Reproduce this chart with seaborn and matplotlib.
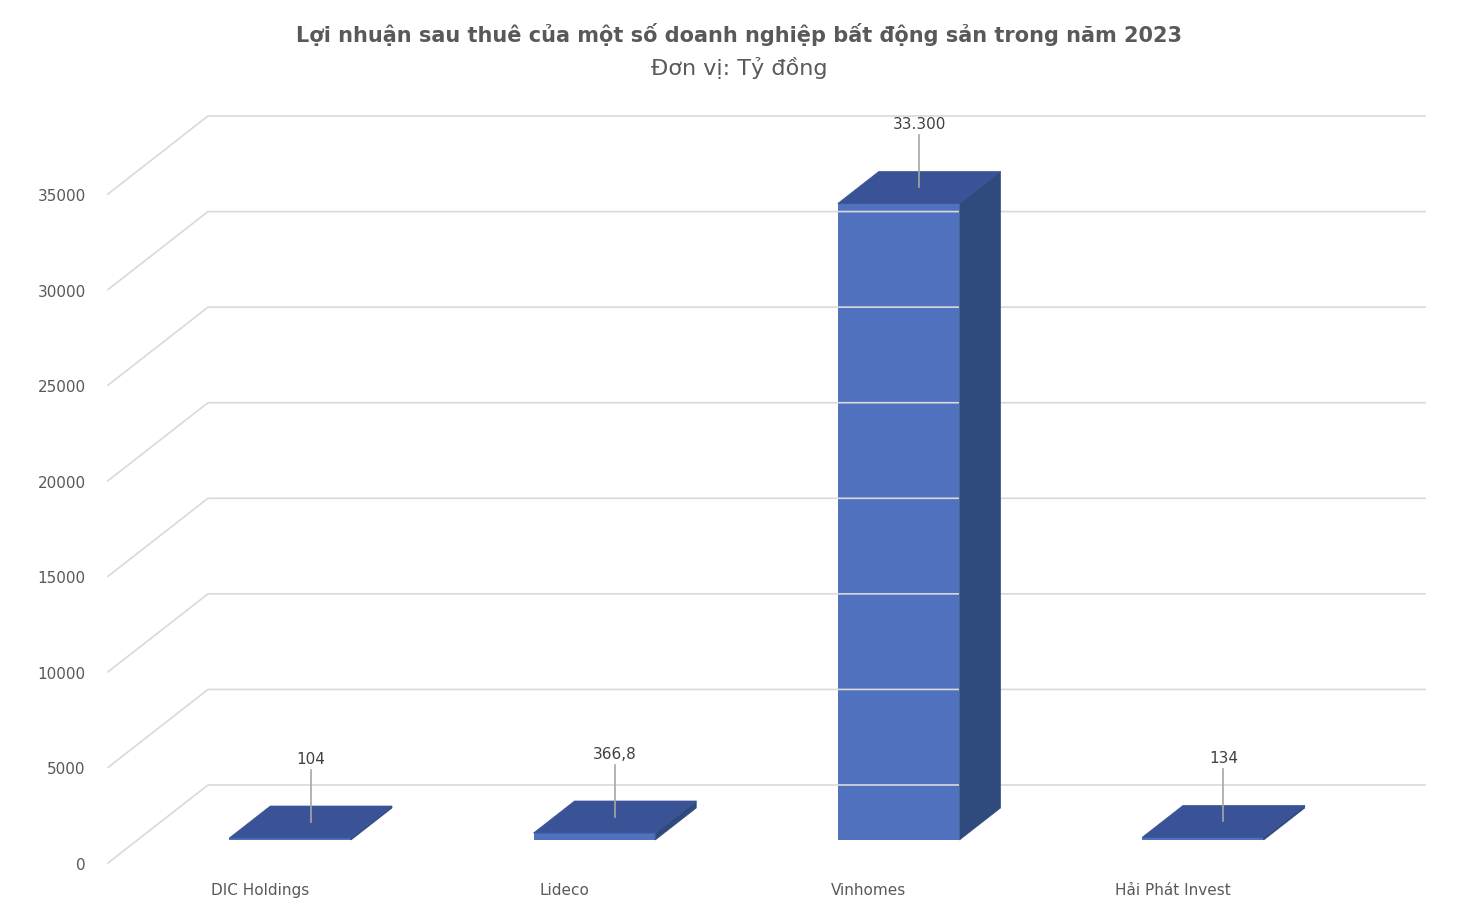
import matplotlib
matplotlib.use('Agg')
import matplotlib.pyplot as plt
import seaborn as sns
import pandas as pd
from matplotlib.patches import Polygon
from matplotlib.lines import Line2D
from matplotlib.transforms import IdentityTransform, ScaledTranslation

companies = ['DIC Holdings', 'Lideco', 'Vinhomes', 'Hải Phát Invest']
profit = [104, 366.8, 33300, 134]
value_labels = ['104', '366,8', '33.300', '134']
y_ticks = [0, 5000, 10000, 15000, 20000, 25000, 30000, 35000]

title = 'Lợi nhuận sau thuê của một số doanh nghiệp bất động sản trong năm 2023'
subtitle = 'Đơn vị: Tỷ đồng'

plt.rcParams.update({'font.family': 'DejaVu Sans'})
grey = '#595959'

# depth offsets in pixels (dpi=100)
DX, DY = 100, 78          # full wall depth
BX, BY = 30, 23           # bar front plane position
BDX, BDY = 41, 32         # bar depth

fig = plt.figure(figsize=(14.78, 9.12), dpi=100)
ax = fig.add_axes([108/1478, 48/912, 1217/1478, 669/912])
df = pd.DataFrame({'company': companies, 'profit': profit})
sns.barplot(ax=ax, data=df, x='company', y='profit', color='#4f71be',
            width=0.4, saturation=1, zorder=3)
ax.set_xlim(-0.5, 3.5)
ax.set_ylim(0, 35000)
ax.set_yticks(y_ticks)
ax.set_yticklabels([str(t) for t in y_ticks], fontsize=11, color=grey)
ax.tick_params(axis='y', length=0, pad=16)
ax.tick_params(axis='x', length=0, pad=14, labelsize=11, labelcolor=grey)
ax.set_xlabel(''); ax.set_ylabel('')
for s in ax.spines.values():
    s.set_visible(False)
ax.patch.set_visible(False)

T = ax.transData
# gridlines: diagonal from front-left to back wall, then horizontal along back
for t in y_ticks:
    fx, fy = T.transform((-0.5, t))
    rx, _ = T.transform((3.5, t))
    fig.add_artist(Line2D([fx, fx + DX, rx + DX], [fy, fy + DY, fy + DY],
                          transform=IdentityTransform(), color='#d9d9d9', lw=1.2, zorder=1))

off = ScaledTranslation(BX/100, BY/100, fig.dpi_scale_trans)
for i, p in enumerate(list(ax.patches)):
    x0, x1 = p.get_x(), p.get_x() + p.get_width()
    h = p.get_height()
    p.set_transform(ax.transData + off)
    p.set_clip_on(False)
    (ax0, ayb) = T.transform((x0, 0)); (ax1, ayt) = T.transform((x1, h))
    ax0 += BX; ax1 += BX; ayb += BY; ayt += BY
    top = Polygon([(ax0, ayt), (ax1, ayt), (ax1 + BDX, ayt + BDY), (ax0 + BDX, ayt + BDY)],
                  closed=True, transform=IdentityTransform(), facecolor='#3a5396',
                  edgecolor='#3a5396', lw=0.5, zorder=4)
    side = Polygon([(ax1, ayt), (ax1 + BDX, ayt + BDY), (ax1 + BDX, ayb + BDY), (ax1, ayb)],
                   closed=True, transform=IdentityTransform(), facecolor='#2f4a7c',
                   edgecolor='#2f4a7c', lw=0.5, zorder=4)
    fig.add_artist(side); fig.add_artist(top)
    cx = (ax0 + ax1) / 2 + BDX / 2
    cy = ayt + BDY / 2
    fig.add_artist(Line2D([cx, cx], [cy, cy + 52], transform=IdentityTransform(),
                          color='#a6a6a6', lw=1.2, zorder=5))
    fig.text(cx / 1478, (cy + 56) / 912, value_labels[i], ha='center', va='bottom',
             fontsize=11, color='#404040')

fig.text(0.5, 1 - 35/912, title, ha='center', va='center', fontsize=15,
         fontweight='bold', color=grey)
fig.text(0.5, 1 - 68/912, subtitle, ha='center', va='center', fontsize=16, color=grey)

fig.savefig('out.png', dpi=100)
